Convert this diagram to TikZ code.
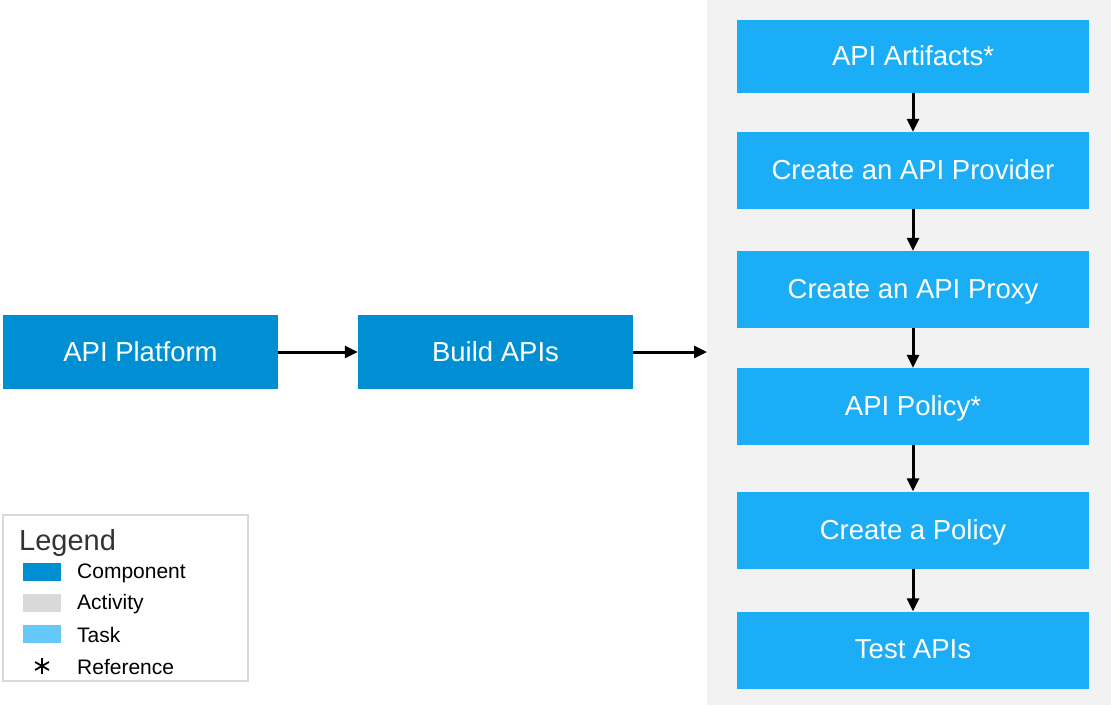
\documentclass[tikz,border=0pt]{standalone}
\usepackage{fontspec}
\setmainfont{Liberation Sans}
\usetikzlibrary{calc,arrows.meta}
\definecolor{compblue}{HTML}{008FD3}
\definecolor{taskblue}{HTML}{1BADF5}
\definecolor{tasklight}{HTML}{66C7F9}
\definecolor{actgrey}{HTML}{D9D9D9}
\definecolor{bggrey}{HTML}{F2F2F2}

\begin{document}
\begin{tikzpicture}[x=1pt,y=-1pt,
    component/.style={fill=compblue,text=white,minimum width=275pt,minimum height=74pt,inner sep=0pt,text depth=1pt,font=\fontsize{27.5}{31}\selectfont},
    task/.style={fill=taskblue,text=white,minimum width=352pt,minimum height=77pt,inner sep=0pt,text depth=1pt,font=\fontsize{27.5}{31}\selectfont},
    swatch/.style={minimum width=38pt,minimum height=18pt,inner sep=0pt},
    legtext/.style={anchor=west,inner sep=0pt,font=\fontsize{21}{24}\selectfont},
    flow/.style={line width=3pt,-{Triangle[length=13pt,width=12pt]}}]
  \useasboundingbox (0,0) rectangle (1111,720);
  % activity area
  \fill[bggrey] (707,0) rectangle (1111,705);
  \coordinate (actin) at (707,352);

  % components
  \node[component] (platform) at (140.5,352) {API Platform};
  \node[component] (build) at (495.5,352) {Build APIs};

  % tasks
  \node[task,minimum height=73pt] (artifacts) at (913,56) {API Artifacts*};
  \node[task] (provider) at (913,170.5) {Create an API Provider};
  \node[task] (proxy) at (913,289.5) {Create an API Proxy};
  \node[task] (policyref) at (913,406.5) {API Policy*};
  \node[task] (policy) at (913,530) {Create a Policy};
  \node[task] (test) at (913,650) {Test APIs};

  \draw[flow] (platform) -- (build);
  \draw[flow] (build) -- (actin);
  \draw[flow] (artifacts) -- (provider);
  \draw[flow] (provider) -- (proxy);
  \draw[flow] (proxy) -- (policyref);
  \draw[flow] (policyref) -- (policy);
  \draw[flow] (policy) -- (test);

  % legend
  \node[draw=actgrey,line width=1.5pt,minimum width=245pt,minimum height=166pt,inner sep=0pt] (legend) at (125.5,598) {};
  \node[anchor=west,inner sep=0pt,text=black!80,font=\fontsize{29}{32}\selectfont] (legtitle) at (19,543) {Legend};
  \node[swatch,fill=compblue] (swcomp) at (42,572) {};
  \node[swatch,fill=actgrey] (swact) at (42,603) {};
  \node[swatch,fill=tasklight] (swtask) at (42,634) {};
  \coordinate (swref) at (42,666);
  \foreach \a in {90,30,150}
    \draw[line width=1.8pt] ($(swref)+(\a:8)$) -- ($(swref)+(\a+180:8)$);
  \node[legtext] (lcomp) at (77,573) {Component};
  \node[legtext] (lact) at (77,604) {Activity};
  \node[legtext] (ltask) at (77,635) {Task};
  \node[legtext] (lref) at (77,667) {Reference};
\end{tikzpicture}
\end{document}
